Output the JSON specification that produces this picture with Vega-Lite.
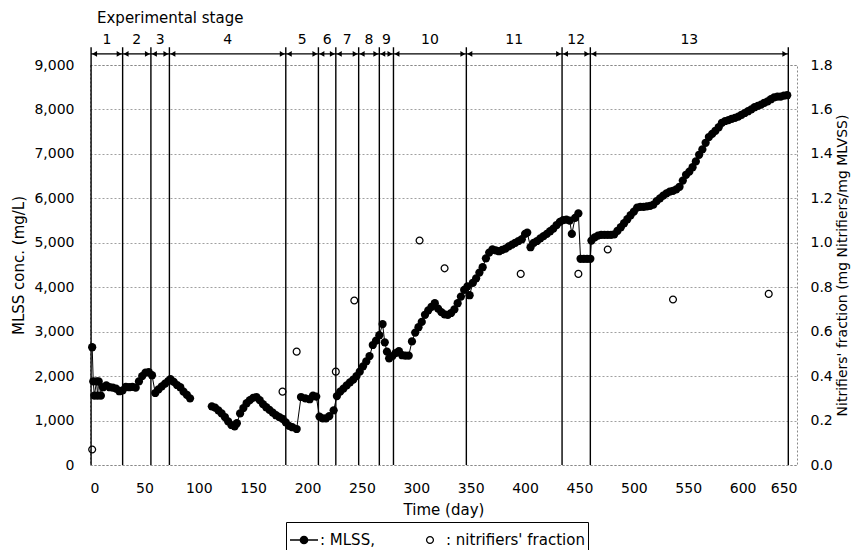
{
  "$schema": "https://vega.github.io/schema/vega-lite/v6.json",
  "autosize": {"type": "none"},
  "padding": {"left": 90, "top": 65, "right": 55, "bottom": 85},
  "width": 707,
  "height": 400,
  "background": "white",
  "title": {"text": "Experimental stage", "anchor": "start", "frame": "group", "font": "DejaVu Sans", "fontSize": 15, "fontWeight": "normal", "color": "black", "dx": 7, "offset": 7},
  "config": {
    "view": {"stroke": "#888", "strokeDash": [2, 2], "strokeWidth": 1},
    "axis": {"domain": false, "ticks": false, "labelFont": "DejaVu Sans", "labelFontSize": 14, "labelColor": "black", "titleFont": "DejaVu Sans", "titleFontSize": 15, "titleFontWeight": "normal", "titleColor": "black", "gridColor": "#888", "gridDash": [2, 2], "gridWidth": 0.8}
  },
  "datasets": {
    "mlss": [
      {"day": 2, "mlss": 2650, "seg": 1}, {"day": 3, "mlss": 1880, "seg": 1}, {"day": 4, "mlss": 1560, "seg": 1}, {"day": 6, "mlss": 1880, "seg": 1}, {"day": 7, "mlss": 1560, "seg": 1}, {"day": 8, "mlss": 1880, "seg": 1}, {"day": 10, "mlss": 1560, "seg": 1}, {"day": 12, "mlss": 1750, "seg": 1}, {"day": 15, "mlss": 1790, "seg": 1}, {"day": 18, "mlss": 1750, "seg": 1}, {"day": 21, "mlss": 1740, "seg": 1}, {"day": 24, "mlss": 1720, "seg": 1}, {"day": 27, "mlss": 1660, "seg": 1}, {"day": 30, "mlss": 1680, "seg": 1}, {"day": 33, "mlss": 1760, "seg": 1}, {"day": 36, "mlss": 1750, "seg": 1}, {"day": 39, "mlss": 1760, "seg": 1}, {"day": 42, "mlss": 1740, "seg": 1}, {"day": 45, "mlss": 1880, "seg": 1}, {"day": 48, "mlss": 2000, "seg": 1}, {"day": 51, "mlss": 2080, "seg": 1}, {"day": 54, "mlss": 2090, "seg": 1}, {"day": 57, "mlss": 2020, "seg": 1}, {"day": 60, "mlss": 1620, "seg": 1}, {"day": 63, "mlss": 1700, "seg": 1}, {"day": 66, "mlss": 1770, "seg": 1}, {"day": 69, "mlss": 1830, "seg": 1}, {"day": 72, "mlss": 1890, "seg": 1}, {"day": 74, "mlss": 1930, "seg": 1}, {"day": 77, "mlss": 1870, "seg": 1}, {"day": 80, "mlss": 1800, "seg": 1}, {"day": 83, "mlss": 1750, "seg": 1}, {"day": 86, "mlss": 1650, "seg": 1}, {"day": 89, "mlss": 1580, "seg": 1}, {"day": 92, "mlss": 1500, "seg": 1},
      {"day": 112, "mlss": 1320, "seg": 2}, {"day": 115, "mlss": 1290, "seg": 2}, {"day": 118, "mlss": 1230, "seg": 2}, {"day": 121, "mlss": 1160, "seg": 2}, {"day": 124, "mlss": 1080, "seg": 2}, {"day": 127, "mlss": 980, "seg": 2}, {"day": 130, "mlss": 900, "seg": 2}, {"day": 133, "mlss": 870, "seg": 2}, {"day": 135, "mlss": 940, "seg": 2}, {"day": 138, "mlss": 1160, "seg": 2}, {"day": 141, "mlss": 1280, "seg": 2}, {"day": 144, "mlss": 1390, "seg": 2}, {"day": 147, "mlss": 1460, "seg": 2}, {"day": 150, "mlss": 1510, "seg": 2}, {"day": 153, "mlss": 1530, "seg": 2}, {"day": 156, "mlss": 1460, "seg": 2}, {"day": 159, "mlss": 1370, "seg": 2}, {"day": 162, "mlss": 1300, "seg": 2}, {"day": 165, "mlss": 1240, "seg": 2}, {"day": 168, "mlss": 1180, "seg": 2}, {"day": 171, "mlss": 1120, "seg": 2}, {"day": 174, "mlss": 1080, "seg": 2}, {"day": 177, "mlss": 1040, "seg": 2}, {"day": 180, "mlss": 960, "seg": 2}, {"day": 183, "mlss": 880, "seg": 2}, {"day": 186, "mlss": 850, "seg": 2}, {"day": 190, "mlss": 810, "seg": 2}, {"day": 194, "mlss": 1530, "seg": 2}, {"day": 198, "mlss": 1500, "seg": 2}, {"day": 202, "mlss": 1480, "seg": 2}, {"day": 205, "mlss": 1560, "seg": 2}, {"day": 208, "mlss": 1540, "seg": 2}, {"day": 211, "mlss": 1090, "seg": 2}, {"day": 214, "mlss": 1050, "seg": 2}, {"day": 217, "mlss": 1050, "seg": 2}, {"day": 220, "mlss": 1100, "seg": 2}, {"day": 224, "mlss": 1230, "seg": 2}, {"day": 227, "mlss": 1550, "seg": 2}, {"day": 230, "mlss": 1650, "seg": 2}, {"day": 233, "mlss": 1720, "seg": 2}, {"day": 236, "mlss": 1790, "seg": 2}, {"day": 239, "mlss": 1860, "seg": 2}, {"day": 242, "mlss": 1920, "seg": 2}, {"day": 245, "mlss": 2000, "seg": 2}, {"day": 248, "mlss": 2100, "seg": 2}, {"day": 251, "mlss": 2220, "seg": 2}, {"day": 254, "mlss": 2330, "seg": 2}, {"day": 257, "mlss": 2450, "seg": 2}, {"day": 260, "mlss": 2700, "seg": 2}, {"day": 263, "mlss": 2800, "seg": 2}, {"day": 266, "mlss": 2920, "seg": 2}, {"day": 269, "mlss": 3170, "seg": 2}, {"day": 271, "mlss": 2760, "seg": 2}, {"day": 273, "mlss": 2550, "seg": 2}, {"day": 275, "mlss": 2400, "seg": 2}, {"day": 278, "mlss": 2450, "seg": 2}, {"day": 281, "mlss": 2520, "seg": 2}, {"day": 284, "mlss": 2560, "seg": 2}, {"day": 287, "mlss": 2470, "seg": 2}, {"day": 290, "mlss": 2460, "seg": 2}, {"day": 293, "mlss": 2460, "seg": 2}, {"day": 296, "mlss": 2780, "seg": 2}, {"day": 299, "mlss": 2980, "seg": 2}, {"day": 302, "mlss": 3100, "seg": 2}, {"day": 305, "mlss": 3220, "seg": 2}, {"day": 308, "mlss": 3380, "seg": 2}, {"day": 311, "mlss": 3480, "seg": 2}, {"day": 314, "mlss": 3560, "seg": 2}, {"day": 317, "mlss": 3640, "seg": 2}, {"day": 320, "mlss": 3520, "seg": 2}, {"day": 323, "mlss": 3440, "seg": 2}, {"day": 326, "mlss": 3390, "seg": 2}, {"day": 329, "mlss": 3380, "seg": 2}, {"day": 332, "mlss": 3420, "seg": 2}, {"day": 335, "mlss": 3500, "seg": 2}, {"day": 338, "mlss": 3640, "seg": 2}, {"day": 341, "mlss": 3790, "seg": 2}, {"day": 344, "mlss": 3940, "seg": 2}, {"day": 347, "mlss": 4020, "seg": 2}, {"day": 349, "mlss": 3820, "seg": 2}, {"day": 352, "mlss": 4100, "seg": 2}, {"day": 355, "mlss": 4200, "seg": 2}, {"day": 358, "mlss": 4330, "seg": 2}, {"day": 361, "mlss": 4450, "seg": 2}, {"day": 364, "mlss": 4650, "seg": 2}, {"day": 367, "mlss": 4780, "seg": 2}, {"day": 370, "mlss": 4850, "seg": 2}, {"day": 373, "mlss": 4830, "seg": 2}, {"day": 376, "mlss": 4810, "seg": 2}, {"day": 379, "mlss": 4840, "seg": 2}, {"day": 382, "mlss": 4870, "seg": 2}, {"day": 385, "mlss": 4920, "seg": 2}, {"day": 388, "mlss": 4960, "seg": 2}, {"day": 391, "mlss": 5000, "seg": 2}, {"day": 394, "mlss": 5040, "seg": 2}, {"day": 397, "mlss": 5080, "seg": 2}, {"day": 400, "mlss": 5200, "seg": 2}, {"day": 402, "mlss": 5230, "seg": 2}, {"day": 405, "mlss": 4900, "seg": 2}, {"day": 408, "mlss": 5000, "seg": 2}, {"day": 411, "mlss": 5040, "seg": 2}, {"day": 414, "mlss": 5100, "seg": 2}, {"day": 417, "mlss": 5150, "seg": 2}, {"day": 420, "mlss": 5200, "seg": 2}, {"day": 423, "mlss": 5260, "seg": 2}, {"day": 426, "mlss": 5320, "seg": 2}, {"day": 429, "mlss": 5400, "seg": 2}, {"day": 432, "mlss": 5470, "seg": 2}, {"day": 435, "mlss": 5510, "seg": 2}, {"day": 438, "mlss": 5520, "seg": 2}, {"day": 441, "mlss": 5500, "seg": 2}, {"day": 443, "mlss": 5200, "seg": 2}, {"day": 446, "mlss": 5560, "seg": 2}, {"day": 449, "mlss": 5660, "seg": 2}, {"day": 451, "mlss": 4640, "seg": 2}, {"day": 454, "mlss": 4640, "seg": 2}, {"day": 457, "mlss": 4640, "seg": 2}, {"day": 460, "mlss": 4640, "seg": 2}, {"day": 461, "mlss": 5050, "seg": 2}, {"day": 464, "mlss": 5120, "seg": 2}, {"day": 467, "mlss": 5160, "seg": 2}, {"day": 470, "mlss": 5180, "seg": 2}, {"day": 473, "mlss": 5180, "seg": 2}, {"day": 476, "mlss": 5180, "seg": 2}, {"day": 479, "mlss": 5180, "seg": 2}, {"day": 482, "mlss": 5190, "seg": 2}, {"day": 485, "mlss": 5270, "seg": 2}, {"day": 488, "mlss": 5350, "seg": 2}, {"day": 491, "mlss": 5440, "seg": 2}, {"day": 494, "mlss": 5530, "seg": 2}, {"day": 497, "mlss": 5620, "seg": 2}, {"day": 500, "mlss": 5700, "seg": 2}, {"day": 503, "mlss": 5790, "seg": 2}, {"day": 506, "mlss": 5810, "seg": 2}, {"day": 509, "mlss": 5810, "seg": 2}, {"day": 512, "mlss": 5820, "seg": 2}, {"day": 515, "mlss": 5830, "seg": 2}, {"day": 518, "mlss": 5860, "seg": 2}, {"day": 521, "mlss": 5940, "seg": 2}, {"day": 524, "mlss": 6000, "seg": 2}, {"day": 527, "mlss": 6060, "seg": 2}, {"day": 530, "mlss": 6110, "seg": 2}, {"day": 533, "mlss": 6150, "seg": 2}, {"day": 536, "mlss": 6170, "seg": 2}, {"day": 539, "mlss": 6200, "seg": 2}, {"day": 542, "mlss": 6260, "seg": 2}, {"day": 545, "mlss": 6400, "seg": 2}, {"day": 548, "mlss": 6530, "seg": 2}, {"day": 551, "mlss": 6600, "seg": 2}, {"day": 554, "mlss": 6700, "seg": 2}, {"day": 557, "mlss": 6830, "seg": 2}, {"day": 560, "mlss": 6980, "seg": 2}, {"day": 563, "mlss": 7100, "seg": 2}, {"day": 566, "mlss": 7250, "seg": 2}, {"day": 569, "mlss": 7380, "seg": 2}, {"day": 572, "mlss": 7450, "seg": 2}, {"day": 575, "mlss": 7520, "seg": 2}, {"day": 578, "mlss": 7600, "seg": 2}, {"day": 581, "mlss": 7700, "seg": 2}, {"day": 584, "mlss": 7740, "seg": 2}, {"day": 587, "mlss": 7760, "seg": 2}, {"day": 590, "mlss": 7790, "seg": 2}, {"day": 593, "mlss": 7810, "seg": 2}, {"day": 596, "mlss": 7840, "seg": 2}, {"day": 599, "mlss": 7880, "seg": 2}, {"day": 602, "mlss": 7920, "seg": 2}, {"day": 605, "mlss": 7960, "seg": 2}, {"day": 608, "mlss": 8000, "seg": 2}, {"day": 611, "mlss": 8050, "seg": 2}, {"day": 614, "mlss": 8080, "seg": 2}, {"day": 617, "mlss": 8110, "seg": 2}, {"day": 620, "mlss": 8150, "seg": 2}, {"day": 623, "mlss": 8180, "seg": 2}, {"day": 626, "mlss": 8230, "seg": 2}, {"day": 629, "mlss": 8270, "seg": 2}, {"day": 632, "mlss": 8290, "seg": 2}, {"day": 635, "mlss": 8290, "seg": 2}, {"day": 638, "mlss": 8310, "seg": 2}, {"day": 641, "mlss": 8320, "seg": 2}
    ],
    "nitr": [
      {"day": 2, "frac": 0.07}, {"day": 177, "frac": 0.33}, {"day": 190, "frac": 0.51}, {"day": 226, "frac": 0.42}, {"day": 243, "frac": 0.74}, {"day": 303, "frac": 1.01}, {"day": 326, "frac": 0.885}, {"day": 396, "frac": 0.86}, {"day": 449, "frac": 0.86}, {"day": 476, "frac": 0.97}, {"day": 536, "frac": 0.745}, {"day": 624, "frac": 0.77}
    ],
    "stages": [
      {"stage": "1", "start": 1, "end": 30}, {"stage": "2", "start": 30, "end": 56}, {"stage": "3", "start": 56, "end": 73}, {"stage": "4", "start": 73, "end": 180}, {"stage": "5", "start": 180, "end": 210}, {"stage": "6", "start": 210, "end": 226}, {"stage": "7", "start": 226, "end": 247}, {"stage": "8", "start": 247, "end": 266}, {"stage": "9", "start": 266, "end": 279}, {"stage": "10", "start": 279, "end": 346}, {"stage": "11", "start": 346, "end": 434}, {"stage": "12", "start": 434, "end": 460}, {"stage": "13", "start": 460, "end": 642}
    ],
    "bounds": [
      {"day": 1}, {"day": 30}, {"day": 56}, {"day": 73}, {"day": 180}, {"day": 210}, {"day": 226}, {"day": 247}, {"day": 266}, {"day": 279}, {"day": 346}, {"day": 434}, {"day": 460}, {"day": 642}
    ]
  },
  "layer": [
    {
      "layer": [
        {
          "data": {"name": "mlss"},
          "mark": {"type": "line", "color": "black", "strokeWidth": 1},
          "encoding": {
            "x": {"field": "day", "type": "quantitative", "scale": {"domain": [0, 650], "nice": false}, "axis": {"values": [0, 50, 100, 150, 200, 250, 300, 350, 400, 450, 500, 550, 600, 650], "title": "Time (day)", "labelPadding": 16, "titlePadding": 7, "grid": false}},
            "y": {"field": "mlss", "type": "quantitative", "scale": {"domain": [0, 9000], "nice": false, "zero": true}, "axis": {"values": [0, 1000, 2000, 3000, 4000, 5000, 6000, 7000, 8000, 9000], "format": ",d", "title": "MLSS conc. (mg/L)", "labelPadding": 16, "titlePadding": 7, "grid": true}},
            "detail": {"field": "seg", "type": "nominal"}
          }
        },
        {
          "data": {"name": "mlss"},
          "mark": {"type": "point", "filled": true, "size": 68, "color": "black", "opacity": 1},
          "encoding": {
            "x": {"field": "day", "type": "quantitative"},
            "y": {"field": "mlss", "type": "quantitative"}
          }
        },
        {
          "data": {"name": "bounds"},
          "mark": {"type": "rule", "color": "black", "strokeWidth": 1.4},
          "encoding": {
            "x": {"field": "day", "type": "quantitative"},
            "y": {"datum": 0},
            "y2": {"datum": 9400}
          }
        },
        {
          "data": {"name": "stages"},
          "mark": {"type": "rule", "color": "black", "strokeWidth": 1.3},
          "encoding": {
            "x": {"field": "start", "type": "quantitative"},
            "x2": {"field": "end"},
            "y": {"datum": 9250}
          }
        },
        {
          "data": {"name": "stages"},
          "mark": {"type": "point", "shape": "triangle-left", "filled": true, "color": "black", "opacity": 1, "size": 32, "xOffset": 3.5},
          "encoding": {
            "x": {"field": "start", "type": "quantitative"},
            "y": {"datum": 9250}
          }
        },
        {
          "data": {"name": "stages"},
          "mark": {"type": "point", "shape": "triangle-right", "filled": true, "color": "black", "opacity": 1, "size": 32, "xOffset": -3.5},
          "encoding": {
            "x": {"field": "end", "type": "quantitative"},
            "y": {"datum": 9250}
          }
        },
        {
          "data": {"name": "stages"},
          "transform": [{"calculate": "(datum.start + datum.end) / 2", "as": "mid"}],
          "mark": {"type": "text", "font": "DejaVu Sans", "fontSize": 14, "color": "black", "baseline": "alphabetic", "dy": -3},
          "encoding": {
            "x": {"field": "mid", "type": "quantitative"},
            "y": {"datum": 9400},
            "text": {"field": "stage"}
          }
        }
      ]
    },
    {
      "data": {"name": "nitr"},
      "mark": {"type": "point", "filled": true, "size": 784, "color": "black", "opacity": 1},
      "encoding": {
        "x": {"field": "day", "type": "quantitative"},
        "y": {"field": "frac", "type": "quantitative", "scale": {"domain": [0, 1.8], "nice": false}, "axis": {"orient": "right", "values": [0, 0.2, 0.4, 0.6, 0.8, 1.0, 1.2, 1.4, 1.6, 1.8], "format": ".1f", "title": "Nitrifiers' fraction (mg Nitrifiers/mg MLVSS)", "titleAngle": -90, "titleBaseline": "top", "titleFontSize": 14, "labelPadding": 13, "titlePadding": 3, "grid": false}},
        "shape": {"datum": "nitrifiers", "type": "nominal",
          "scale": {"domain": ["MLSS", "nitrifiers"], "range": ["M-1,-0.05H1V0.05H-1Z M0.31,0A0.31,0.31,0,1,1,-0.31,0A0.31,0.31,0,1,1,0.31,0Z", "M0.29,0A0.29,0.29,0,1,1,-0.29,0A0.29,0.29,0,1,1,0.29,0Z M0.2,0A0.2,0.2,0,1,0,-0.2,0A0.2,0.2,0,1,0,0.2,0Z"]},
          "legend": {"orient": "none", "legendX": 196, "legendY": 457, "direction": "horizontal", "title": null,
            "labelExpr": "datum.value == 'MLSS' ? ': MLSS,' : \": nitrifiers' fraction\"",
            "labelFont": "DejaVu Sans", "labelFontSize": 15, "labelColor": "black", "labelOffset": 1,
            "strokeColor": "black", "fillColor": "white", "padding": 3, "columnPadding": 40, "symbolSize": 784,
            "symbolFillColor": "black", "symbolOpacity": 1}
        }
      }
    }
  ],
  "resolve": {"scale": {"y": "independent"}}
}
